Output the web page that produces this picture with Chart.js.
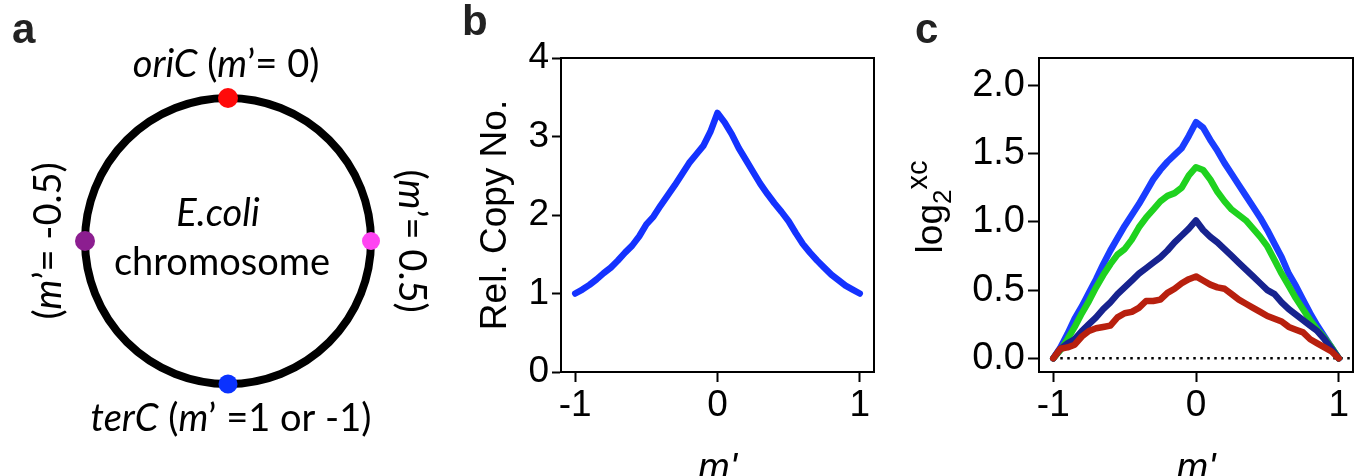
<!DOCTYPE html>
<html>
<head>
<meta charset="utf-8">
<script src="https://cdn.jsdelivr.net/npm/chart.js@4.4.1/dist/chart.umd.min.js"></script>
<style>
  html, body { margin: 0; padding: 0; background: #fff; }
  body { width: 1360px; height: 476px; position: relative; overflow: hidden; }
  .panel { position: absolute; top: 0; }
</style>
</head>
<body>
<div class="panel" style="left:0;width:440px;height:476px"><canvas id="chartA"></canvas></div>
<div class="panel" style="left:440px;width:460px;height:500px"><canvas id="chartB"></canvas></div>
<div class="panel" style="left:900px;width:460px;height:500px"><canvas id="chartC"></canvas></div>
<script>
// chromosome map: marker positions (m') and colours
const sitePos = [0, 0.5, 1, -0.5];
const siteColors = ['#ff0a0a', '#ff44f2', '#0a32ff', '#8c1e90'];
const siteSize = [10, 9, 9.5, 10];

// shared x positions along the chromosome
const mPrime = [-1, -0.95, -0.9, -0.85, -0.8, -0.75, -0.7, -0.65, -0.6, -0.55, -0.5,
  -0.45, -0.4, -0.35, -0.3, -0.25, -0.2, -0.15, -0.1, -0.05, 0,
  0.05, 0.1, 0.15, 0.2, 0.25, 0.3, 0.35, 0.4, 0.45, 0.5,
  0.55, 0.6, 0.65, 0.7, 0.75, 0.8, 0.85, 0.9, 0.95, 1];
const xTicks = [-1, 0, 1];

// relative copy number
const copyNo = [1.00, 1.05, 1.11, 1.18, 1.26, 1.33, 1.42, 1.52, 1.61, 1.73, 1.88,
  1.98, 2.12, 2.25, 2.38, 2.52, 2.66, 2.77, 2.88, 3.06, 3.30,
  3.18, 3.03, 2.85, 2.70, 2.55, 2.40, 2.27, 2.15, 2.04, 1.92,
  1.77, 1.63, 1.52, 1.42, 1.33, 1.24, 1.17, 1.10, 1.05, 1.00];

// log2 xc series
const xcBlue = [0, 0.08, 0.18, 0.29, 0.38, 0.48, 0.58, 0.69, 0.79, 0.88, 0.97,
  1.05, 1.13, 1.22, 1.31, 1.38, 1.44, 1.49, 1.54, 1.63, 1.73,
  1.69, 1.60, 1.52, 1.43, 1.35, 1.27, 1.19, 1.11, 1.03, 0.94,
  0.84, 0.74, 0.62, 0.53, 0.43, 0.33, 0.24, 0.16, 0.08, 0];
const xcGreen = [0, 0.06, 0.14, 0.23, 0.33, 0.42, 0.52, 0.61, 0.69, 0.76, 0.80,
  0.87, 0.96, 1.03, 1.09, 1.15, 1.19, 1.21, 1.25, 1.34, 1.40,
  1.38, 1.31, 1.22, 1.15, 1.09, 1.05, 1.01, 0.95, 0.89, 0.82,
  0.72, 0.62, 0.53, 0.44, 0.36, 0.28, 0.21, 0.15, 0.08, 0];
const xcNavy = [0, 0.07, 0.11, 0.14, 0.20, 0.25, 0.30, 0.36, 0.41, 0.47, 0.52,
  0.57, 0.62, 0.66, 0.70, 0.74, 0.79, 0.85, 0.90, 0.95, 1.01,
  0.94, 0.89, 0.85, 0.80, 0.75, 0.70, 0.65, 0.60, 0.55, 0.50,
  0.47, 0.41, 0.36, 0.32, 0.28, 0.24, 0.20, 0.14, 0.07, 0];
const xcRed = [0, 0.07, 0.08, 0.10, 0.16, 0.20, 0.22, 0.23, 0.24, 0.30, 0.33,
  0.34, 0.37, 0.42, 0.42, 0.43, 0.48, 0.51, 0.55, 0.58, 0.60,
  0.57, 0.54, 0.52, 0.51, 0.47, 0.43, 0.40, 0.37, 0.34, 0.31,
  0.29, 0.27, 0.23, 0.21, 0.19, 0.14, 0.11, 0.08, 0.05, 0];
const xcTicks = [0, 0.5, 1, 1.5, 2];
const zeroX = [-1, 1.1];
const zeroY = [0, 0];

const SANS = '"Liberation Sans", Arial, sans-serif';
const HUMAN = 'Lato, "Open Sans", sans-serif';

const pts = (xs, ys) => xs.map((x, i) => ({ x: x, y: ys[i] }));

// draws a list of [text, italic] runs centred on (x, y)
function drawRuns(ctx, runs, x, y, size, family) {
  let total = 0;
  const widths = runs.map(r => {
    ctx.font = (r[1] ? 'italic ' : '') + size + 'px ' + family;
    const w = ctx.measureText(r[0]).width;
    total += w;
    return w;
  });
  let cx = x - total / 2;
  ctx.textAlign = 'left';
  runs.forEach((r, i) => {
    ctx.font = (r[1] ? 'italic ' : '') + size + 'px ' + family;
    ctx.fillText(r[0], cx, y);
    cx += widths[i];
  });
}

function panelTag(ctx, letter, x, y) {
  ctx.save();
  ctx.fillStyle = '#222';
  ctx.font = 'bold 42px ' + SANS;
  ctx.textAlign = 'left';
  ctx.textBaseline = 'alphabetic';
  ctx.fillText(letter, x, y);
  ctx.restore();
}

const frameBox = {
  id: 'frameBox',
  afterDraw(chart) {
    const { ctx, chartArea: a } = chart;
    ctx.save();
    ctx.strokeStyle = '#000';
    ctx.lineWidth = 2;
    ctx.beginPath();
    ctx.moveTo(a.left, a.top);
    ctx.lineTo(a.right, a.top);
    ctx.lineTo(a.right, a.bottom);
    ctx.stroke();
    ctx.restore();
  }
};

// ---------- a: circular chromosome ----------
const mapLabels = {
  id: 'mapLabels',
  afterDraw(chart) {
    const ctx = chart.ctx;
    const r = chart.scales.r;
    const cx = r.xCenter, cy = r.yCenter, R = r.drawingArea;
    const fs = 38;
    ctx.save();
    ctx.fillStyle = '#000';
    ctx.textBaseline = 'alphabetic';
    drawRuns(ctx, [['oriC', true], [' (', false], ['m', true], ['\u2019= 0)', false]], cx - 2, cy - R - 21, fs, HUMAN);
    drawRuns(ctx, [['terC', true], [' (', false], ['m', true], ['\u2019 =1 or -1)', false]], cx + 3, cy + R + 47, fs, HUMAN);
    drawRuns(ctx, [['E.coli', true]], cx - 10, cy - 15, fs, HUMAN);
    drawRuns(ctx, [['chromosome', false]], cx - 6, cy + 34, fs, HUMAN);

    ctx.textBaseline = 'middle';
    ctx.save();
    ctx.translate(cx - R - 36, cy);
    ctx.rotate(-Math.PI / 2);
    drawRuns(ctx, [['(', false], ['m', true], ['\u2019= -0.5)', false]], 0, 0, fs, HUMAN);
    ctx.restore();
    ctx.save();
    ctx.translate(cx + R + 40, cy);
    ctx.rotate(Math.PI / 2);
    drawRuns(ctx, [['(', false], ['m', true], ['\u2019= 0.5)', false]], 0, 0, fs, HUMAN);
    ctx.restore();
    ctx.restore();
    panelTag(ctx, 'a', 12, 43);
  }
};

new Chart(document.getElementById('chartA'), {
  type: 'radar',
  data: {
    labels: sitePos.map(String),
    datasets: [{
      data: sitePos.map(() => 1),
      showLine: false,
      fill: false,
      borderWidth: 0,
      pointRadius: siteSize,
      pointBackgroundColor: siteColors,
      pointBorderWidth: 0
    }]
  },
  options: {
    responsive: true,
    maintainAspectRatio: false,
    animation: false,
    layout: { padding: { left: 85, right: 69, top: 98, bottom: 92 } },
    plugins: { legend: { display: false }, tooltip: { enabled: false } },
    scales: {
      r: {
        min: 0,
        max: 1,
        ticks: { display: false, stepSize: 1 },
        grid: { circular: true, color: '#000', lineWidth: 8 },
        angleLines: { display: false },
        pointLabels: { display: false }
      }
    }
  },
  plugins: [mapLabels]
});

// ---------- shared axis styling for b and c ----------
function xAxis() {
  return {
    type: 'linear',
    min: -1.1,
    max: 1.1,
    afterBuildTicks: s => { s.ticks = xTicks.map(v => ({ value: v })); },
    afterFit: s => { s.height = 128; },
    grid: { drawOnChartArea: false, tickLength: 10, tickWidth: 2, tickColor: '#000' },
    border: { color: '#000', width: 2 },
    ticks: { color: '#000', font: { family: SANS, size: 37 }, padding: 2, maxRotation: 0, autoSkip: false, callback: v => String(v) },
    title: { display: true, text: "m'", color: '#000', font: { family: SANS, size: 38, style: 'italic' }, padding: { top: 0, bottom: 8 } }
  };
}

// ---------- b: relative copy number ----------
new Chart(document.getElementById('chartB'), {
  type: 'line',
  data: {
    datasets: [{
      data: pts(mPrime, copyNo),
      borderColor: '#1432ff',
      borderWidth: 6.5,
      pointRadius: 0,
      tension: 0,
      borderJoinStyle: 'round',
      borderCapStyle: 'round'
    }]
  },
  options: {
    responsive: true,
    maintainAspectRatio: false,
    animation: false,
    layout: { padding: { left: 0, right: 26, top: 58, bottom: 0 } },
    plugins: { legend: { display: false }, tooltip: { enabled: false } },
    scales: {
      x: xAxis(),
      y: {
        min: 0,
        max: 4,
        afterFit: s => { s.width = 121; },
        grid: { drawOnChartArea: false, tickLength: 9, tickWidth: 2, tickColor: '#000' },
        border: { color: '#000', width: 2 },
        ticks: { stepSize: 1, color: '#000', font: { family: SANS, size: 37 }, padding: 3 },
        title: { display: true, text: 'Rel. Copy No.', color: '#000', font: { family: SANS, size: 37 }, padding: { top: 34, bottom: 0 } }
      }
    }
  },
  plugins: [frameBox, {
    id: 'tagB',
    afterDraw(chart) { panelTag(chart.ctx, 'b', 22, 35); }
  }]
});

// ---------- c: log2 xc ----------
const log2Title = {
  id: 'log2Title',
  afterDraw(chart) {
    const ctx = chart.ctx;
    const parts = [['log', 37, 0], ['2', 26, 9], ['xc', 29, -15]];
    ctx.save();
    ctx.fillStyle = '#000';
    ctx.textBaseline = 'alphabetic';
    ctx.textAlign = 'left';
    let total = 0;
    const w = parts.map(p => {
      ctx.font = p[1] + 'px ' + SANS;
      const m = ctx.measureText(p[0]).width;
      total += m;
      return m;
    });
    ctx.translate(42, 207);
    ctx.rotate(-Math.PI / 2);
    let x = -total / 2;
    parts.forEach((p, i) => {
      ctx.font = p[1] + 'px ' + SANS;
      ctx.fillText(p[0], x, p[2]);
      x += w[i];
    });
    ctx.restore();
    panelTag(ctx, 'c', 15, 43);
  }
};

const curve = (ys, color) => ({
  data: pts(mPrime, ys),
  borderColor: color,
  borderWidth: 6.5,
  pointRadius: 0,
  tension: 0,
  borderJoinStyle: 'round',
  borderCapStyle: 'round'
});

new Chart(document.getElementById('chartC'), {
  type: 'line',
  data: {
    datasets: [
      curve(xcRed, '#b8200e'),
      curve(xcNavy, '#17238f'),
      curve(xcGreen, '#1fd21f'),
      curve(xcBlue, '#1a3dff'),
      {
        data: pts(zeroX, zeroY),
        borderColor: '#000',
        borderWidth: 2.5,
        borderDash: [2.5, 4.5],
        pointRadius: 0
      }
    ]
  },
  options: {
    responsive: true,
    maintainAspectRatio: false,
    animation: false,
    layout: { padding: { left: 0, right: 7, top: 58, bottom: 0 } },
    plugins: { legend: { display: false }, tooltip: { enabled: false } },
    scales: {
      x: xAxis(),
      y: {
        min: -0.1,
        max: 2.2,
        afterBuildTicks: s => { s.ticks = xcTicks.map(v => ({ value: v })); },
        afterFit: s => { s.width = 139; },
        grid: { drawOnChartArea: false, tickLength: 11, tickWidth: 2, tickColor: '#000' },
        border: { color: '#000', width: 2 },
        ticks: { color: '#000', font: { family: SANS, size: 38 }, padding: 3, callback: v => v.toFixed(1) }
      }
    }
  },
  plugins: [frameBox, log2Title]
});
</script>
</body>
</html>
